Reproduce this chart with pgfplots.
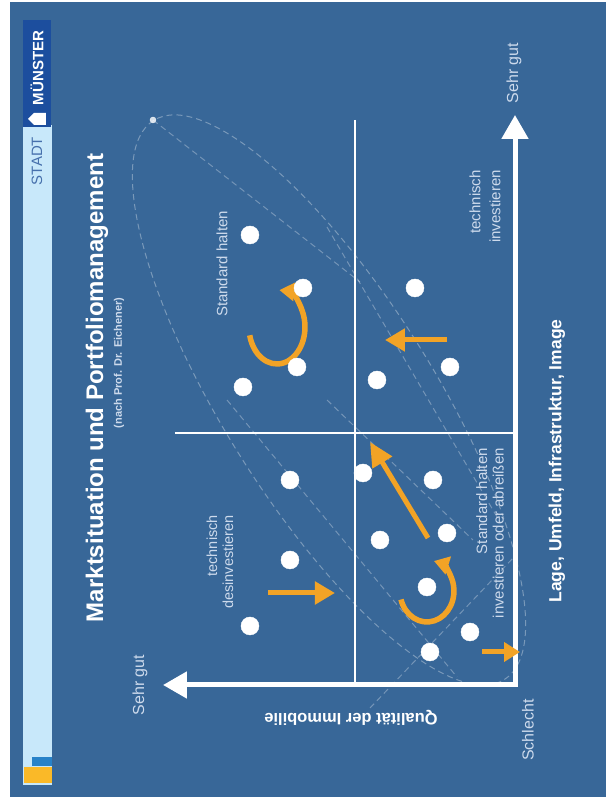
\documentclass[border=0pt]{standalone}
\usepackage{pgfplots}
\pgfplotsset{compat=1.18}
\usepackage{fontspec}
\setmainfont{Liberation Sans}
\usetikzlibrary{arrows.meta}
\definecolor{slideblue}{RGB}{56,103,152}
\definecolor{barlight}{RGB}{200,232,250}
\definecolor{citydark}{RGB}{28,78,158}
\definecolor{citytext}{RGB}{70,112,172}
\definecolor{amber}{RGB}{242,163,38}
\definecolor{logoblue}{RGB}{40,130,200}
\definecolor{logoyellow}{RGB}{250,185,40}
\definecolor{labeltxt}{RGB}{205,218,236}

\begin{document}
\begin{tikzpicture}
\begin{axis}[
  scale only axis, width=606pt, height=797pt,
  xmin=-91, xmax=515, ymin=-112, ymax=685,
  x dir=reverse,
  hide axis, clip=false,
]
% slide background
\fill[white] (axis cs:515,685) rectangle (axis cs:-91,-112);
\fill[slideblue] (axis cs:505,683) rectangle (axis cs:-91,-112);

% side bar with the city logo
\fill[barlight] (axis cs:492,560) rectangle (axis cs:463,-100);
\fill[citydark] (axis cs:492,665) rectangle (axis cs:464,558);
\node[rotate=90, inner sep=0pt, text=white, font=\bfseries\fontsize{15}{17}\selectfont] at (axis cs:478,617) {MÜNSTER};
\fill[white] (axis cs:487,566) -- (axis cs:481,572) -- (axis cs:469,572) -- (axis cs:469,560) -- (axis cs:481,560) -- cycle;
\node[rotate=90, inner sep=0pt, text=citytext, font=\fontsize{15}{17}\selectfont] at (axis cs:478,524) {STADT};
\fill[logoblue] (axis cs:483,-72) rectangle (axis cs:463,-81);
\fill[logoyellow] (axis cs:491,-82) rectangle (axis cs:463,-98);

% faint dashed zones
\begin{scope}[white, opacity=0.33, line width=1pt, dash pattern=on 6pt off 4pt]
\draw[rotate around={-57.9:(axis cs:186,285)}] (axis cs:186,285) ellipse[x radius=330pt, y radius=105pt];
\end{scope}
\pgfplotsset{zone/.style={white, opacity=0.3, line width=1pt, dash pattern=on 6pt off 4pt}}
\addplot[zone] coordinates {(362,565) (155,403)};
\addplot[zone] coordinates {(188,458) (15,163)};
\addplot[zone] coordinates {(288,285) (58,8)};
\addplot[zone] coordinates {(145,-23) (0,129)};
\addplot[zone] coordinates {(188,285) (42,145)};
\addplot[only marks, mark=*, mark size=3pt, white, opacity=0.8] coordinates {(362,565)};

% quadrant dividers
\addplot[white, line width=1.6pt] coordinates {(160,565) (160,0)};
\addplot[white, line width=1.6pt] coordinates {(340,252) (0,252)};

% axes
\addplot[white, line width=5pt, line join=miter,
  {Triangle[length=24pt,width=26pt]}-{Triangle[length=24pt,width=26pt]}]
  coordinates {(352,0) (0,0) (0,570)};

% properties
\addplot[only marks, mark=*, mark size=9pt, mark options={fill=white, draw=white}] coordinates {
  (265,450) (212,397) (218,318) (272,298) (100,397) (65,318) (138,305)
  (225,205) (225,125) (265,59) (152,212) (82,205) (135,145) (68,152)
  (88,98) (45,53) (85,33)
};

% strategy arrows
\addplot[amber, line width=5pt, -{Triangle[length=20pt,width=22pt]}] coordinates {(247,92) (180,92)};
\addplot[amber, line width=5pt, -{Triangle[length=24pt,width=22pt]}] coordinates {(87,147) (145,243)};
\addplot[amber, line width=5pt, -{Triangle[length=20pt,width=22pt]}] coordinates {(68,345) (130,345)};
\addplot[amber, line width=5pt, -{Triangle[length=16pt,width=19pt]}] coordinates {(33,33) (-5,33)};
\draw[amber, line width=5.5pt, -{Triangle[length=15pt,width=18pt]}] (axis cs:265.3,349.7) arc[start angle=193, end angle=445, x radius=28pt, y radius=37pt];
\draw[amber, line width=5.5pt, -{Triangle[length=15pt,width=18pt]}] (axis cs:114,85.5) arc[start angle=196, end angle=435, x radius=27pt, y radius=31pt];

% titles
\node[rotate=90, inner sep=0pt, text=white, font=\bfseries\fontsize{24}{28}\selectfont] at (axis cs:418,297) {Marktsituation und Portfoliomanagement};
\node[rotate=90, inner sep=0pt, text=labeltxt, font=\bfseries\fontsize{11}{13}\selectfont] at (axis cs:396,322) {(nach Prof. Dr. Eichener)};

% axis labels
\node[rotate=90, inner sep=0pt, text=labeltxt, font=\fontsize{16}{19}\selectfont] at (axis cs:1,612) {Sehr gut};
\node[rotate=90, inner sep=0pt, text=labeltxt, font=\fontsize{16}{19}\selectfont] at (axis cs:375,0) {Sehr gut};
\node[rotate=90, inner sep=0pt, text=labeltxt, font=\fontsize{16}{19}\selectfont] at (axis cs:-13,-45) {Schlecht};
\node[rotate=180, inner sep=0pt, text=white, font=\bfseries\fontsize{16.5}{20}\selectfont] at (axis cs:164,-33) {Qualität der Immobilie};
\node[rotate=90, inner sep=0pt, text=white, font=\bfseries\fontsize{17.5}{21}\selectfont] at (axis cs:-42,224) {Lage, Umfeld, Infrastruktur, Image};

% quadrant strategies
\node[rotate=90, anchor=east, align=right, inner sep=0pt, text=labeltxt, font=\fontsize{14.5}{16}\selectfont] at (axis cs:295,170) {technisch\\desinvestieren};
\node[rotate=90, anchor=east, align=right, inner sep=0pt, text=labeltxt, font=\fontsize{15}{20}\selectfont] at (axis cs:30,515) {technisch\\investieren};
\node[rotate=90, anchor=east, align=right, inner sep=0pt, text=labeltxt, font=\fontsize{15}{16.5}\selectfont] at (axis cs:25,237) {Standard halten\\investieren oder abreißen};
\node[rotate=90, inner sep=0pt, text=labeltxt, font=\fontsize{15}{17}\selectfont] at (axis cs:293,421) {Standard halten};
\end{axis}
\end{tikzpicture}
\end{document}
